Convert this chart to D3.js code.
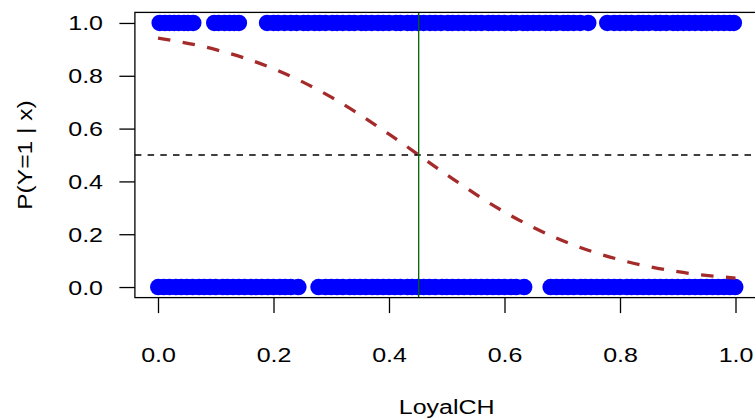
<!DOCTYPE html>
<html>
<head>
<meta charset="utf-8">
<script src="https://cdn.jsdelivr.net/npm/d3@7.9.0/dist/d3.min.js"></script>
<style>
    body { margin: 0; background: #fff; }
    svg { display: block; font-family: "Liberation Sans", Arial, sans-serif; }
</style>
</head>
<body>
<div id="chart"></div>
<script>
// LoyalCH values of the observations with Y = 1
const loyalY1 = [
    0.003, 0.012, 0.02, 0.028, 0.036, 0.045, 0.052, 0.061,
    0.0975, 0.105, 0.115, 0.124, 0.132, 0.140,
    0.189, 0.2, 0.208, 0.219, 0.23, 0.24, 0.252, 0.26, 0.271, 0.28, 0.29, 0.302, 0.31,
    0.32, 0.331, 0.34, 0.352, 0.36, 0.37, 0.381, 0.39, 0.4, 0.412, 0.42, 0.432, 0.44,
    0.45, 0.46, 0.471, 0.48, 0.49, 0.502, 0.51, 0.52, 0.53, 0.541, 0.55, 0.56, 0.572,
    0.58, 0.59, 0.6, 0.612, 0.62, 0.632, 0.64, 0.65, 0.66, 0.671, 0.68, 0.69, 0.702,
    0.71, 0.72, 0.731, 0.745,
    0.778, 0.79, 0.8, 0.81, 0.82, 0.832, 0.84, 0.85, 0.862, 0.87, 0.88, 0.892, 0.9,
    0.91, 0.92, 0.93, 0.941, 0.95, 0.96, 0.97, 0.98, 0.99, 0.997
];

// LoyalCH values of the observations with Y = 0
const loyalY0 = [
    0.0005, 0.01, 0.02, 0.031, 0.04, 0.05, 0.06, 0.071, 0.08, 0.09, 0.1, 0.112, 0.12,
    0.13, 0.14, 0.15, 0.161, 0.17, 0.18, 0.19, 0.2, 0.211, 0.22, 0.23, 0.243,
    0.278, 0.29, 0.3, 0.31, 0.32, 0.332, 0.34, 0.35, 0.36, 0.371, 0.38, 0.39, 0.4,
    0.41, 0.42, 0.432, 0.44, 0.45, 0.46, 0.47, 0.48, 0.492, 0.5, 0.51, 0.52, 0.53,
    0.541, 0.55, 0.56, 0.57, 0.58, 0.59, 0.6, 0.611, 0.62, 0.634,
    0.68, 0.69, 0.7, 0.71, 0.72, 0.732, 0.74, 0.75, 0.76, 0.77, 0.78, 0.79, 0.8,
    0.812, 0.82, 0.83, 0.84, 0.85, 0.86, 0.87, 0.88, 0.89, 0.9, 0.911, 0.92, 0.93,
    0.94, 0.95, 0.96, 0.97, 0.98, 0.99, 0.9995
];

// fitted probability curve
const curveX = [0, 0.1, 0.2, 0.3, 0.4, 0.5, 0.6, 0.7, 0.8, 0.9, 1.0];
const curveP = [0.943, 0.899, 0.827, 0.719, 0.579, 0.425, 0.284, 0.176, 0.103, 0.058, 0.034];

const threshold = 0.4514;   // vertical line
const cutoff = 0.5;         // horizontal line

const xTicks = [0, 0.2, 0.4, 0.6, 0.8, 1.0];
const yTicks = [0, 0.2, 0.4, 0.6, 0.8, 1.0];

const width = 755;
const height = 418;
const box = { left: 134.9, right: 758.6, top: 12.4, bottom: 297.6 };
const textStretch = 1.25;

const xScale = d3.scaleLinear().domain([-0.04, 1.04]).range([box.left, box.right]);
const yScale = d3.scaleLinear().domain([-0.04, 1.04]).range([box.bottom, box.top]);

const svg = d3.select('#chart')
    .append('svg')
    .attr('width', width)
    .attr('height', height);

// y axis
const yAxis = svg.append('g')
    .attr('transform', `translate(${box.left}, 0)`)
    .call(d3.axisLeft(yScale).tickValues(yTicks).tickSize(15.5).tickFormat(d3.format('.1f')));
yAxis.select('.domain').remove();
yAxis.selectAll('line').attr('stroke', '#000').attr('stroke-width', 1.3);
yAxis.selectAll('text').remove();
yAxis.selectAll('.tick').append('text')
    .attr('fill', '#000')
    .attr('font-size', 20)
    .attr('text-anchor', 'end')
    .attr('dy', '0.35em')
    .attr('transform', `translate(${103 - box.left}, 0) scale(${textStretch}, 1)`)
    .text(d3.format('.1f'));

// x axis
const xAxis = svg.append('g')
    .attr('transform', `translate(0, ${box.bottom})`)
    .call(d3.axisBottom(xScale).tickValues(xTicks).tickSize(15.5));
xAxis.select('.domain').remove();
xAxis.selectAll('line').attr('stroke', '#000').attr('stroke-width', 1.3);
xAxis.selectAll('text').remove();
xAxis.selectAll('.tick').append('text')
    .attr('fill', '#000')
    .attr('font-size', 20)
    .attr('text-anchor', 'middle')
    .attr('dy', '0.35em')
    .attr('transform', `translate(0, ${355 - box.bottom}) scale(${textStretch}, 1)`)
    .text(d3.format('.1f'));

// axis titles
svg.append('text')
    .attr('font-size', 20)
    .attr('text-anchor', 'middle')
    .attr('dy', '0.35em')
    .attr('transform', `translate(${(box.left + box.right) / 2}, 407) scale(${textStretch}, 1)`)
    .text('LoyalCH');

svg.append('text')
    .attr('font-size', 20)
    .attr('text-anchor', 'middle')
    .attr('dy', '0.35em')
    .attr('transform', `translate(25, ${(box.top + box.bottom) / 2}) rotate(-90) scale(1.23, 1)`)
    .text('P(Y=1 | x)');

// points
const dots = svg.append('g').attr('fill', '#0000ff');
dots.selectAll('circle.one')
    .data(loyalY1)
    .join('circle')
    .attr('cx', (d) => xScale(d))
    .attr('cy', yScale(1))
    .attr('r', 8.3);
dots.append('g').selectAll('circle')
    .data(loyalY0)
    .join('circle')
    .attr('cx', (d) => xScale(d))
    .attr('cy', yScale(0))
    .attr('r', 8.3);

// logistic curve
const curveData = curveX.map((x, i) => ({ x, p: curveP[i] }));
svg.append('path')
    .datum(curveData)
    .attr('fill', 'none')
    .attr('stroke', '#a52a2a')
    .attr('stroke-width', 3.3)
    .attr('stroke-dasharray', '12.5,12.5')
    .attr('d', d3.line().x((d) => xScale(d.x)).y((d) => yScale(d.p)).curve(d3.curveMonotoneX));

// reference lines
svg.append('line')
    .attr('x1', box.left).attr('x2', box.right)
    .attr('y1', yScale(cutoff)).attr('y2', yScale(cutoff))
    .attr('stroke', '#000')
    .attr('stroke-width', 1.3)
    .attr('stroke-dasharray', '6.5,6.2');

svg.append('line')
    .attr('x1', xScale(threshold)).attr('x2', xScale(threshold))
    .attr('y1', box.top).attr('y2', box.bottom)
    .attr('stroke', '#006400')
    .attr('stroke-width', 1.3);

// plot box
svg.append('rect')
    .attr('x', box.left).attr('y', box.top)
    .attr('width', box.right - box.left)
    .attr('height', box.bottom - box.top)
    .attr('fill', 'none')
    .attr('stroke', '#000')
    .attr('stroke-width', 1.3);
</script>
</body>
</html>
